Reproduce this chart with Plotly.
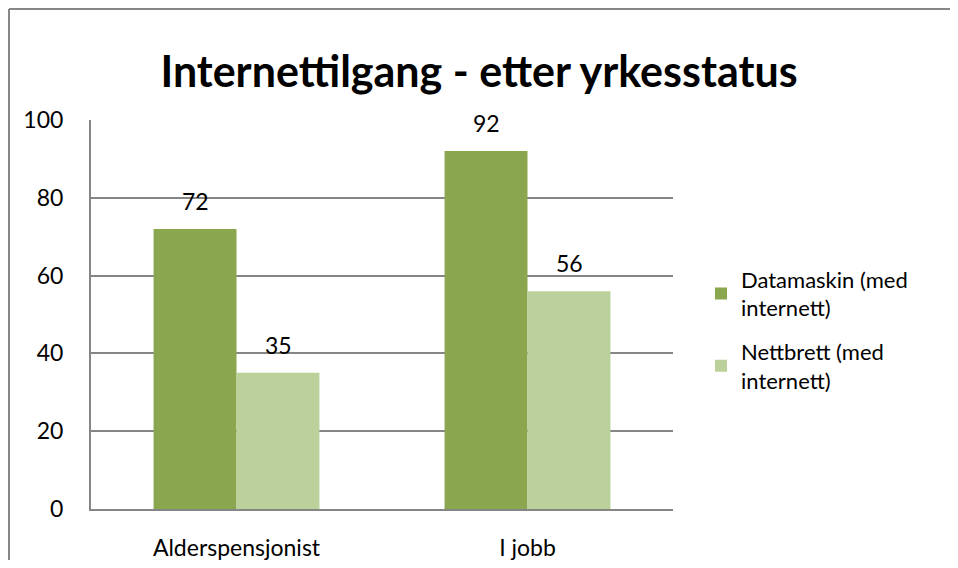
import plotly.graph_objects as go

categories = ["Alderspensjonist", "I jobb"]
series_names = ["Datamaskin (med<br>internett)", "Nettbrett (med<br>internett)"]
datamaskin = [72, 92]
nettbrett = [35, 56]
y_ticks = [0, 20, 40, 60, 80, 100]
title_text = "Internettilgang - etter yrkesstatus"

colors = ["#8AA64F", "#BBD09A"]
FONT = "Lato"
FS = 23

# page has an 8px body margin; size figure to fit inside the 958x568 window
W, H = 942, 552
L, T = 83, 112
R = W - 665
B = H - 501
pw, ph = W - L - R, H - T - B

fig = go.Figure()
for i, (name, vals, col) in enumerate(zip(series_names, [datamaskin, nettbrett], colors)):
    fig.add_trace(go.Bar(x=categories, y=vals, name=name, legendgroup=f"g{i}",
                         marker=dict(color=col, line=dict(width=0))))

shift = 41.5
for vals, xs in [(datamaskin, -shift), (nettbrett, shift)]:
    for c, v in zip(categories, vals):
        fig.add_annotation(x=c, y=v, text=str(v), showarrow=False, xshift=xs, yshift=28,
                           yanchor="middle", font=dict(family=FONT, size=FS, color="#000"))

# outer border (top and left only visible)
bx = (1 - L) / pw
by = (H - B - 1) / ph
fig.add_shape(type="line", xref="paper", yref="paper",
              x0=bx, x1=(W + 10 - L) / pw, y0=by, y1=by,
              line=dict(color="#868686", width=2))
fig.add_shape(type="line", xref="paper", yref="paper",
              x0=bx, x1=bx, y0=by, y1=-(B + 10) / ph,
              line=dict(color="#868686", width=2))

fig.update_layout(
    width=W, height=H,
    margin=dict(l=L, r=R, t=T, b=B, pad=0, autoexpand=False),
    paper_bgcolor="white", plot_bgcolor="white",
    barmode="group", bargap=0.43, bargroupgap=0,
    title=dict(text="<b>" + title_text + "</b>", x=0.5, xanchor="center", y=1 - 64 / H, yanchor="middle",
               font=dict(family=FONT, size=43, color="#000")),
    font=dict(family=FONT, size=FS, color="#000"),
    legend=dict(x=(693 - L) / pw, y=(501 - 322) / ph, xanchor="left", yanchor="middle",
                font=dict(family=FONT, size=22), tracegroupgap=12, itemwidth=30,
                bgcolor="rgba(0,0,0,0)"),
    showlegend=True,
)
fig.update_yaxes(range=[0, 100], tickvals=y_ticks, showgrid=True, gridcolor="#868686", gridwidth=1.5,
                 showline=True, linecolor="#868686", linewidth=2, ticks="", ticklabelstandoff=21,
                 zeroline=False, tickfont=dict(family=FONT, size=FS))
fig.update_xaxes(showline=True, linecolor="#868686", linewidth=2, ticks="", ticklabelstandoff=17,
                 tickfont=dict(family=FONT, size=FS))

fig.write_html("out.html")
